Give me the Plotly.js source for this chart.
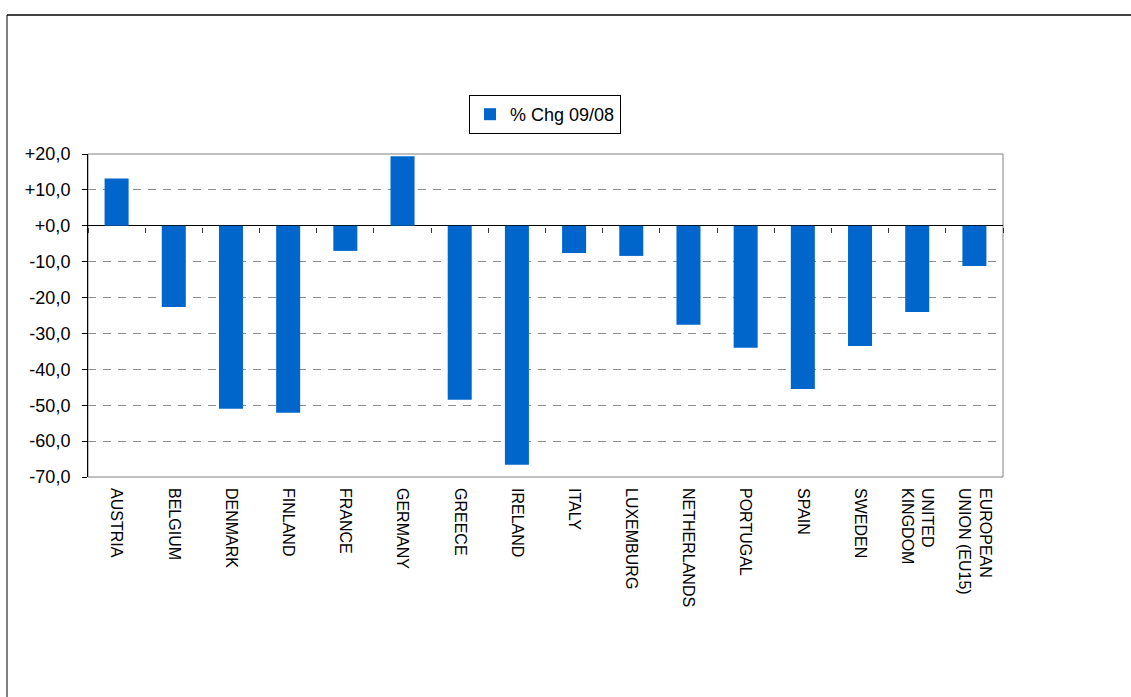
<!DOCTYPE html>
<html>
<head>
<meta charset="utf-8">
<script src="https://cdn.plot.ly/plotly-3.0.1.min.js"></script>
<style>html,body{margin:0;padding:0;background:#fff;}#chart{width:1131px;height:697px;}</style>
</head>
<body>
<div id="chart"></div>
<script>
// ---- data ----
const categories = ["AUSTRIA","BELGIUM","DENMARK","FINLAND","FRANCE","GERMANY","GREECE","IRELAND","ITALY","LUXEMBURG","NETHERLANDS","PORTUGAL","SPAIN","SWEDEN","UNITED<br>KINGDOM","EUROPEAN<br>UNION (EU15)"];
const pctChange = [13.2,-22.6,-51.0,-52.1,-7.0,19.4,-48.5,-66.6,-7.6,-8.4,-27.6,-34.0,-45.5,-33.5,-24.0,-11.2];
const seriesName = "% Chg 09/08";
const yTickValues = [20,10,0,-10,-20,-30,-40,-50,-60,-70];
const yTickLabels = ["+20,0","+10,0","+0,0","-10,0","-20,0","-30,0","-40,0","-50,0","-60,0","-70,0"];

// ---- layout helpers ----
const W = 1131, H = 697;
const M = {l: 88, r: 128, t: 154, b: 220};
const pw = W - M.l - M.r, ph = H - M.t - M.b;
const px = v => (v - M.l) / pw;
const py = v => (H - M.b - v) / ph;

const tickFont = {family: "Liberation Sans, Arial, sans-serif", size: 18, color: "#000"};
const catFont = {family: "Liberation Sans, Arial, sans-serif", size: 16, color: "#000"};

const traces = [
  {
    type: "bar",
    x: categories,
    y: pctChange,
    name: seriesName,
    marker: {color: "#0066CC", line: {width: 0}},
    xaxis: "x",
    yaxis: "y",
    hoverinfo: "x+y"
  },
  {
    type: "scatter",
    mode: "none",
    x: categories,
    y: pctChange,
    xaxis: "x2",
    yaxis: "y",
    showlegend: false,
    hoverinfo: "skip"
  }
];

const layout = {
  width: W, height: H,
  margin: M,
  paper_bgcolor: "#fff",
  plot_bgcolor: "#fff",
  bargap: 0.58,
  showlegend: true,
  legend: {
    x: px(545), xanchor: "center",
    y: py(95), yanchor: "top",
    orientation: "h",
    bordercolor: "#000", borderwidth: 1,
    bgcolor: "#fff",
    font: {family: "Liberation Sans, Arial, sans-serif", size: 18, color: "#000"}
  },
  xaxis: {
    type: "category",
    categoryorder: "array",
    categoryarray: categories,
    range: [-0.5, categories.length - 0.5],
    showline: false,
    showgrid: false,
    zeroline: false,
    ticks: "",
    tickangle: 90,
    ticklabelstandoff: 10,
    tickfont: catFont,
    fixedrange: true
  },
  xaxis2: {
    type: "category",
    categoryorder: "array",
    categoryarray: categories,
    overlaying: "x",
    anchor: "free",
    position: py(226.5),
    range: [-0.5, categories.length - 0.5],
    showticklabels: false,
    showline: false,
    showgrid: false,
    zeroline: false,
    ticks: "outside",
    tickson: "boundaries",
    ticklen: 5,
    tickwidth: 1,
    tickcolor: "#333",
    fixedrange: true
  },
  yaxis: {
    range: [-70, 20],
    tickmode: "array",
    tickvals: yTickValues,
    ticktext: yTickLabels,
    showline: true,
    linecolor: "#000",
    linewidth: 1,
    ticks: "outside",
    ticklen: 5,
    tickcolor: "#000",
    tickfont: tickFont,
    ticklabelstandoff: 8,
    showgrid: true,
    gridcolor: "#8c8c8c",
    gridwidth: 1,
    griddash: "8px,7px",
    zeroline: true,
    zerolinecolor: "#000",
    zerolinewidth: 1,
    fixedrange: true
  },
  shapes: [
    {type: "rect", xref: "paper", yref: "paper", x0: 0, x1: 1, y0: 0, y1: 1,
     line: {color: "#808080", width: 1}, layer: "below"},
    {type: "line", xref: "paper", yref: "paper", x0: px(7), x1: px(W + 5), y0: py(15), y1: py(15),
     line: {color: "#000", width: 1.5}},
    {type: "line", xref: "paper", yref: "paper", x0: px(7), x1: px(7), y0: py(15), y1: py(H + 5),
     line: {color: "#000", width: 1}}
  ]
};

Plotly.newPlot("chart", traces, layout, {displayModeBar: false, staticPlot: true});
</script>
</body>
</html>
